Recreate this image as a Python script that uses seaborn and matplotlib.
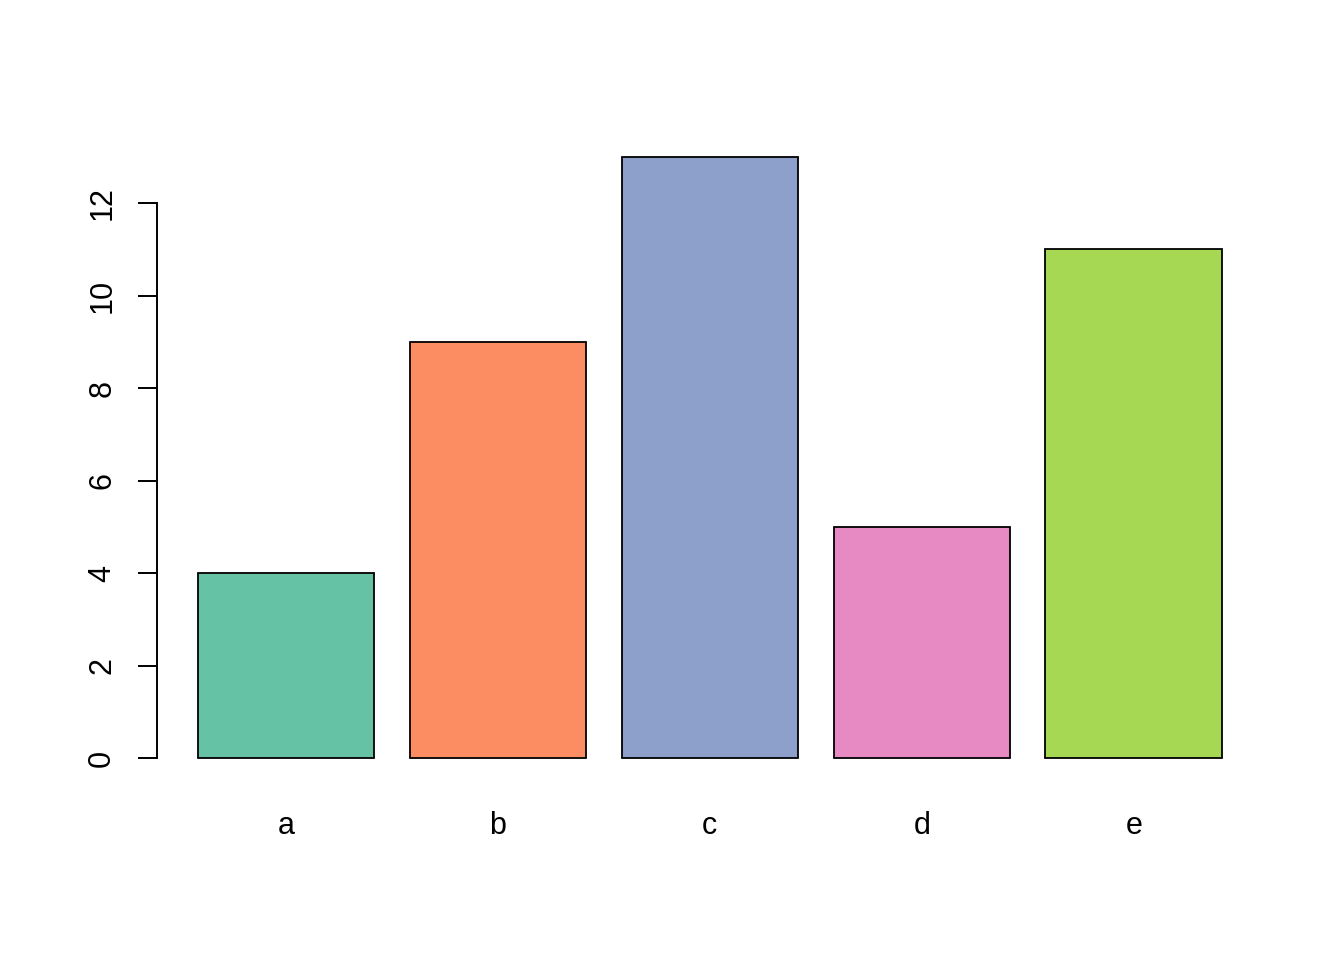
import matplotlib
matplotlib.use('Agg')
import matplotlib.pyplot as plt
import pandas as pd
import seaborn as sns

# data
categories = ['a', 'b', 'c', 'd', 'e']
values = [4, 9, 13, 5, 11]
colors = ['#66C2A5', '#FC8D62', '#8DA0CB', '#E78AC3', '#A6D854']
yticks = [0, 2, 4, 6, 8, 10, 12]

df = pd.DataFrame({'cat': categories, 'val': values})

sns.set_style('white')
plt.rcParams['font.family'] = ['Liberation Sans', 'DejaVu Sans']
plt.rcParams['text.color'] = 'black'
plt.rcParams['xtick.color'] = 'black'
plt.rcParams['ytick.color'] = 'black'

fig = plt.figure(figsize=(13.44, 9.6), dpi=100)
W, H = 1344, 960
# axes placed in pixels: x from 157 to 1278, y from 133 to 782
ax = fig.add_axes([157 / W, 1 - 782 / H, (1278 - 157) / W, (782 - 133) / H])

sns.barplot(data=df, x='cat', y='val', hue='cat', palette=colors, legend=False,
            width=0.833, edgecolor='black', linewidth=1.3, saturation=1, ax=ax)

ax.set_xlim(-0.609, 4.681)
ax.set_ylim(-0.52, 13.52)

for s in ['top', 'right', 'bottom']:
    ax.spines[s].set_visible(False)
ax.spines['left'].set_bounds(0, 12)
ax.spines['left'].set_linewidth(1.4)
ax.spines['left'].set_color('black')

ax.set_yticks(yticks)
ax.set_yticklabels([str(t) for t in yticks], rotation=90, va='center', fontsize=22)
ax.tick_params(axis='y', length=13.7, width=1.4, color='black', pad=15, left=True,
               labelcolor='black')
ax.tick_params(axis='x', length=0, pad=21, labelsize=22, labelcolor='black')
ax.set_xlabel('')
ax.set_ylabel('')

fig.savefig('out.png', dpi=100)
